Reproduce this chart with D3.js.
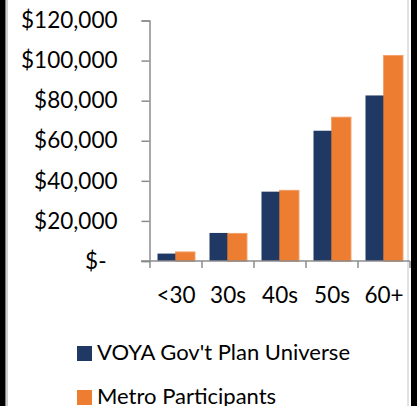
<!DOCTYPE html>
<html>
<head>
<meta charset="utf-8">
<script src="https://cdn.jsdelivr.net/npm/d3@7"></script>
<style>
    body { margin: 0; background: white; }
    svg { display: block; font-family: Lato, "Open Sans", sans-serif; }
</style>
</head>
<body>
<svg width="417" height="406"></svg>
<script>
var ageGroups = ["<30", "30s", "40s", "50s", "60+"];
var seriesNames = ["VOYA Gov't Plan Universe", "Metro Participants"];
var voyaValues = [3700, 14000, 34600, 65000, 82600];
var metroValues = [4300, 13500, 35000, 71500, 102300];
var yTicks = [0, 20000, 40000, 60000, 80000, 100000, 120000];
var seriesColors = ["#203864", "#ED7D31"];

var svg = d3.select("svg");

// Frame: thick black on the sides, thin grey inside
svg.append("rect").attr("x", 0).attr("y", 0).attr("width", 5.5).attr("height", 406).attr("fill", "black");
svg.append("rect").attr("x", 411).attr("y", 0).attr("width", 6).attr("height", 406).attr("fill", "black");
svg.append("line").attr("x1", 7).attr("x2", 7).attr("y1", 0).attr("y2", 406)
    .style("stroke", "#bfbfbf").style("stroke-width", 1.5);
svg.append("line").attr("x1", 408).attr("x2", 408).attr("y1", 0).attr("y2", 406)
    .style("stroke", "#d9d9d9").style("stroke-width", 1.5);

var xScale = d3.scaleBand().domain(ageGroups).range([150, 410]);
var yScale = d3.scaleLinear().domain([0, 120000]).range([261, 20.5]);
var inner = d3.scaleBand().domain(seriesNames).range([0, 37]);
var groupOffset = (xScale.bandwidth() - 37) / 2;

var fmt = d3.format("$,");

// Y axis
var yAxis = svg.append("g")
    .attr("transform", "translate(149.5,0)")
    .call(d3.axisLeft(yScale).tickValues(yTicks).tickSize(8).tickPadding(32)
        .tickFormat(d => d === 0 ? "$-" : fmt(d)));
yAxis.select(".domain").attr("stroke", "#8c8c8c").attr("stroke-width", 1.5);
yAxis.selectAll(".tick line").attr("stroke", "#8c8c8c").attr("stroke-width", 1.5);
yAxis.selectAll(".tick text")
    .attr("font-size", 22.5).attr("fill", "black").attr("font-family", "Lato, sans-serif")
    .attr("x", d => d === 0 ? -43 : -32);

// Bars
var data = ageGroups.map((g, i) => ({ group: g, values: [voyaValues[i], metroValues[i]] }));

svg.append("g").selectAll("g")
    .data(data)
    .join("g")
    .attr("transform", d => "translate(" + (xScale(d.group) + groupOffset) + ",0)")
    .selectAll("rect")
    .data(d => d.values.map((v, j) => ({ name: seriesNames[j], value: v, color: seriesColors[j] })))
    .join("rect")
    .attr("x", d => inner(d.name))
    .attr("width", inner.bandwidth())
    .attr("y", d => yScale(d.value))
    .attr("height", d => yScale(0) - yScale(d.value))
    .attr("fill", d => d.color)
    .attr("stroke", d => d.name === seriesNames[1] ? d.color : "none")
    .attr("stroke-width", 2)
    .attr("stroke-opacity", 0.7);

// X axis
var xAxis = svg.append("g")
    .attr("transform", "translate(0,261)");
xAxis.append("line")
    .attr("x1", 141).attr("x2", 410)
    .style("stroke", "#8c8c8c").style("stroke-width", 1.5);
xAxis.selectAll("line.tick")
    .data(ageGroups.concat(["end"]))
    .join("line")
    .attr("class", "tick")
    .attr("x1", (d, i) => i < ageGroups.length ? xScale(d) : xScale.range()[1])
    .attr("x2", (d, i) => i < ageGroups.length ? xScale(d) : xScale.range()[1])
    .attr("y1", 0).attr("y2", 7)
    .style("stroke", "#8c8c8c").style("stroke-width", 1.5);
xAxis.selectAll("text")
    .data(ageGroups)
    .join("text")
    .attr("x", d => xScale(d) + xScale.bandwidth() / 2)
    .attr("y", 42)
    .attr("text-anchor", "middle")
    .attr("font-size", 22.5)
    .text(d => d);

// Legend
var legend = svg.append("g").selectAll("g")
    .data(seriesNames)
    .join("g")
    .attr("transform", (d, i) => "translate(77," + (346 + i * 44) + ")");
legend.append("rect")
    .attr("width", 15).attr("height", 15)
    .attr("fill", (d, i) => seriesColors[i]);
legend.append("text")
    .attr("x", 20).attr("y", 14)
    .attr("font-size", 22)
    .text(d => d);
</script>
</body>
</html>
